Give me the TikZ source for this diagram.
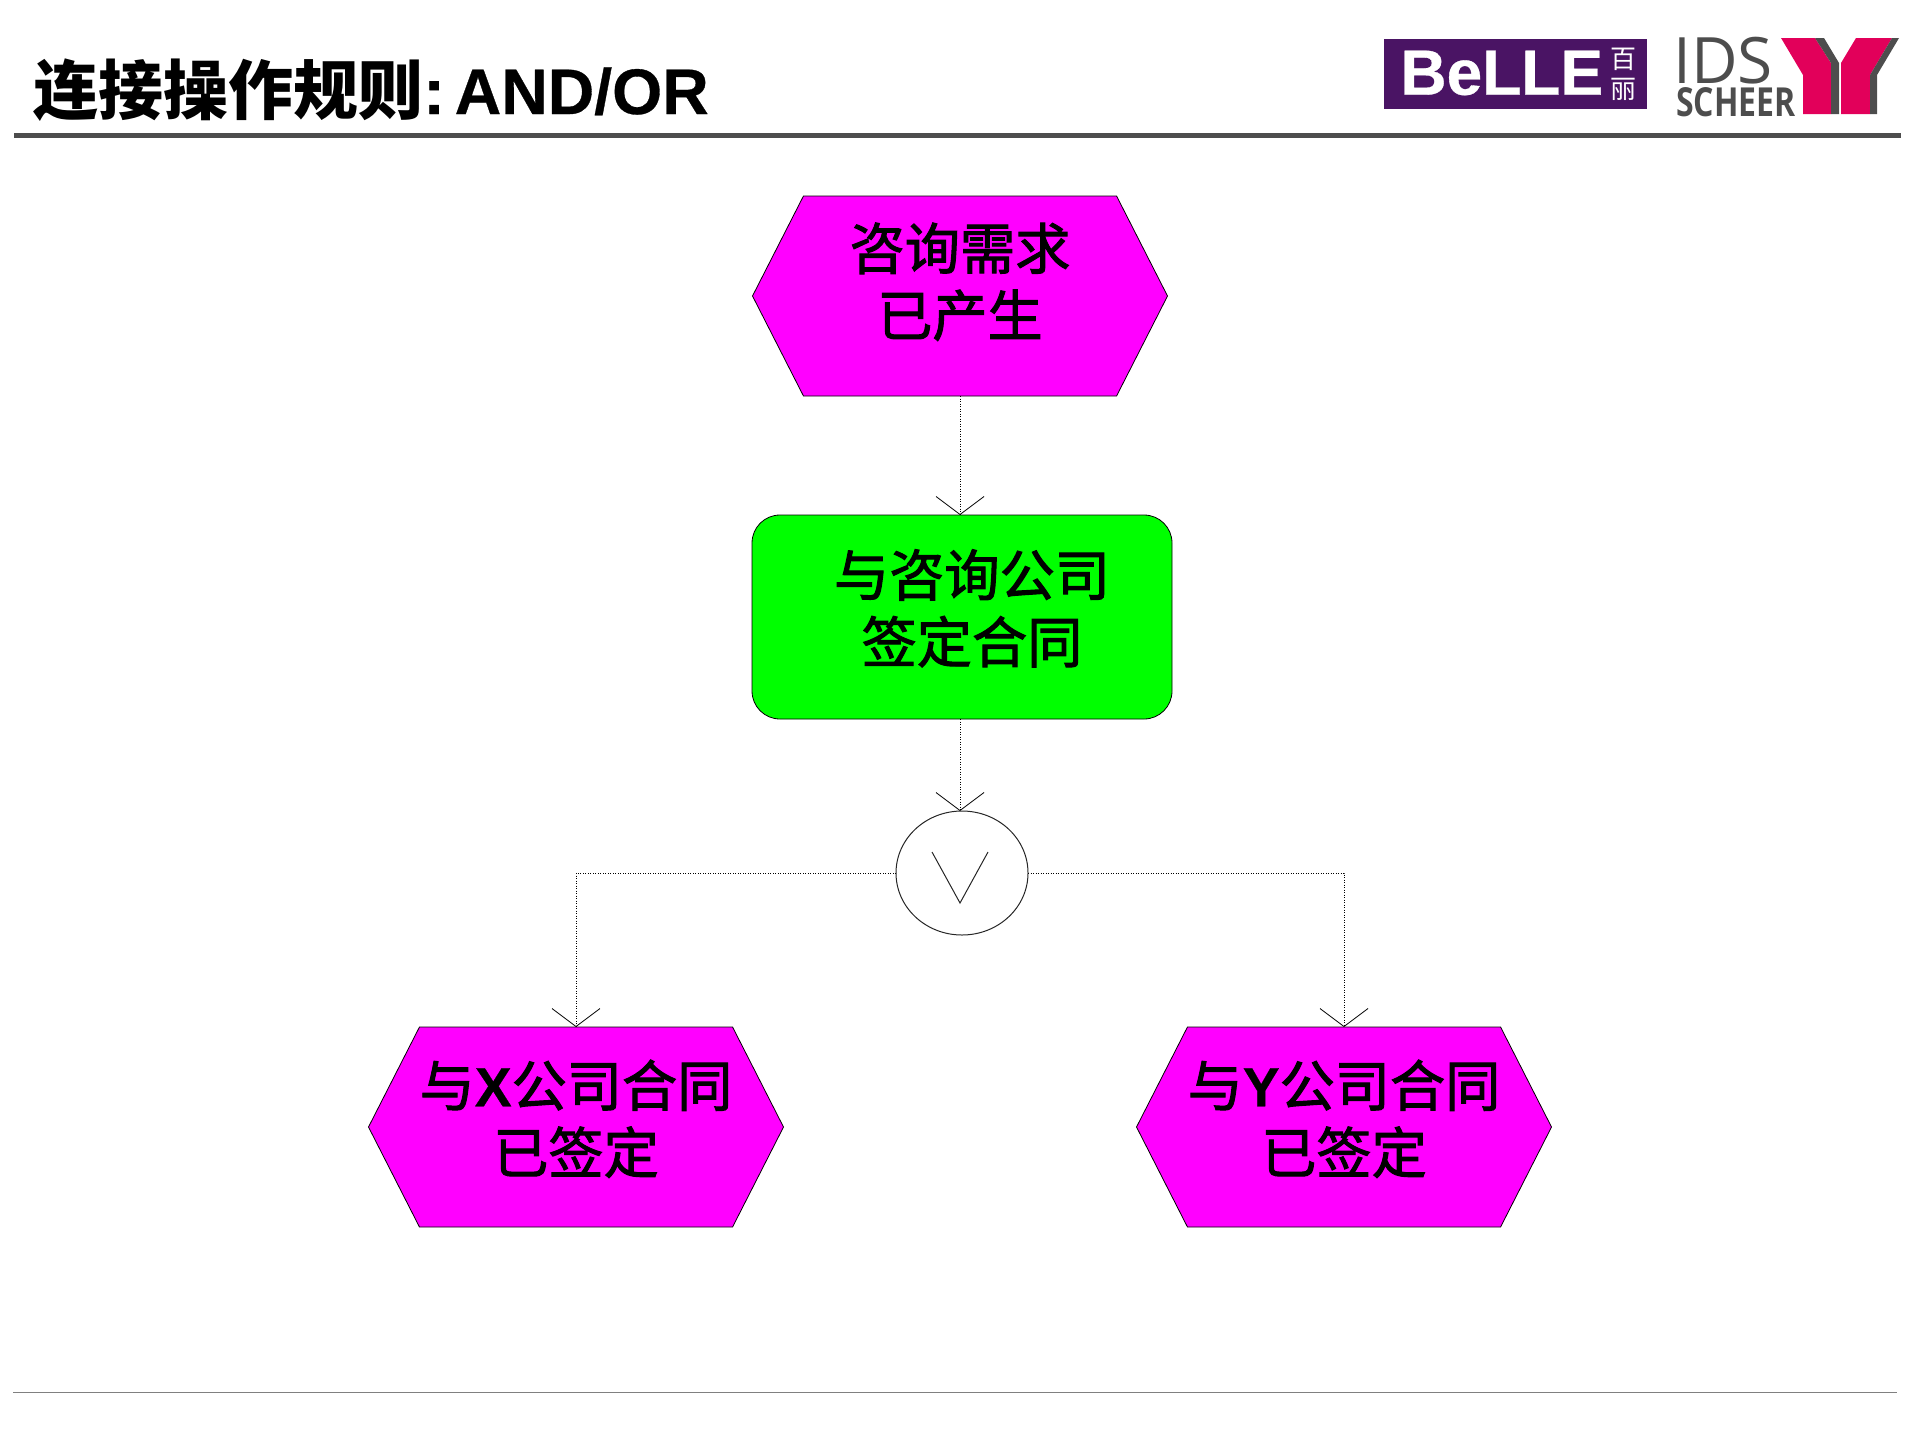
\documentclass[tikz,border=0pt]{standalone}
\usepackage{fontspec}
\setmainfont{Liberation Sans}[BoldFeatures={FakeBold=0.5}]
\newfontfamily\cjk{Noto Sans CJK SC}
\newfontfamily\cjklight{Noto Sans CJK SC}[FakeBold=1.8]
\newfontfamily\opensans{Open Sans}
\newcommand{\cn}[1]{{\cjk #1}}
\newcommand{\cnl}[1]{{\cjklight\mdseries #1}}
\usetikzlibrary{arrows.meta}
\usetikzlibrary{shapes.symbols,shapes.geometric}
\usetikzlibrary{positioning}
\definecolor{eventpink}{RGB}{255,0,255}
\definecolor{funcgreen}{RGB}{0,255,0}
\definecolor{rulegray}{RGB}{77,77,77}
\definecolor{bellepurple}{RGB}{74,20,100}
\definecolor{idspink}{RGB}{226,0,90}
\tikzset{
    label text/.style={font=\fontsize{27.6}{33.5}\selectfont\bfseries,align=center,text=black},
    eventbox/.style={shape=signal,signal to=west and east,signal pointer angle=126,draw=black,line width=.4pt,
        fill=eventpink,minimum width=207.5pt,minimum height=100pt,inner sep=0pt,outer sep=0pt,label text},
    funcbox/.style={draw=black,line width=.4pt,fill=funcgreen,rounded corners=14pt,minimum width=210pt,
        minimum height=102pt,inner sep=0pt,outer sep=0pt,label text},
    orbox/.style={shape=ellipse,draw=black!85,line width=.5pt,minimum width=66pt,minimum height=62pt,
        inner sep=0pt,outer sep=0pt},
    flow/.style={line width=.5pt,dash pattern=on .5pt off .75pt,-{Straight Barb[length=9pt,width=24pt,line width=.4pt]}}
}
\begin{document}
\begin{tikzpicture}[x=0.5pt,y=-0.5pt]
    \useasboundingbox (0,0) rectangle (1920,1440);
    % header
    \node[anchor=base west,inner sep=0pt,font=\fontsize{32.5}{33}\selectfont\bfseries] (title) at (33,114) {\cn{连接操作规则}:\hspace{-7.2pt} \fontsize{32.2}{33}\selectfont AND/OR};
    \fill[rulegray] (14,133) rectangle (1901,138);
    \draw[gray,line width=.5pt] (13,1392) -- (1897,1392);
    % logos
    \node[fill=bellepurple,minimum width=131.5pt,minimum height=35pt,inner sep=0pt] (belle) at (1515.5,74) {};
    \node[anchor=west,inner sep=0pt,text=white,font=\fontsize{32}{32}\selectfont\bfseries] (belleword) at (1400,73) {BeLLE};
    \node[anchor=center,inner sep=0pt,text=white,align=center,font=\fontsize{13}{15}\selectfont] (bellecn) at (1623,74) {\cn{百}\\\cn{丽}};
    \node[anchor=base west,inner sep=0pt,text depth=0pt,text height=23pt,text=rulegray,font=\fontsize{32}{32}\selectfont\opensans] (ids) at (1673,83) {IDS};
    \node[anchor=base west,inner sep=0pt,text depth=0pt,text height=13pt,text=rulegray,xscale=.8,transform shape,font=\fontsize{20}{20}\selectfont\opensans\bfseries] (scheer) at (1676,116) {SCHEER};
    \fill[idspink] (1781,38) -- (1815,38) -- (1831,63) -- (1831,114) -- (1803,114) -- (1803,75) -- cycle;
    \fill[idspink] (1856,38) -- (1892,38) -- (1870,75) -- (1870,114) -- (1841,114) -- (1841,63) -- cycle;
    \fill[rulegray] (1815,38) -- (1824,38) -- (1839,63) -- (1839,114) -- (1831,114) -- (1831,63) -- cycle;
    \fill[rulegray] (1892,38) -- (1899,38) -- (1877,75) -- (1877,114) -- (1870,114) -- (1870,75) -- cycle;
    % diagram
    \node[eventbox,text depth=16.6pt] (need) at (960,296) {\cnl{咨询需求}\\\cnl{已产生}};
    \node[funcbox,text depth=11pt] (sign) at (962,617) {\hspace*{10pt}\cnl{与咨询公司}\\\hspace*{10pt}\cnl{签定合同}};
    \node[orbox] (or) at (962,873) {};
    \coordinate (orv) at (960,903);
    \draw[draw=black!85,line width=.5pt] (932,852) -- (orv) -- (988,852);
    \node[eventbox,text depth=10.5pt] (x) at (576,1127) {\cnl{与}X\cnl{公司合同}\\\cnl{已签定}};
    \node[eventbox,text depth=10.5pt] (y) at (1344,1127) {\cnl{与}Y\cnl{公司合同}\\\cnl{已签定}};
    \draw[flow] (need.south) -- (sign.north -| need.south);
    \draw[flow] (sign.south -| need.south) -- (or.north -| need.south);
    \draw[flow] (or.west) -| (x.north);
    \draw[flow] (or.east) -| (y.north);
\end{tikzpicture}
\end{document}
